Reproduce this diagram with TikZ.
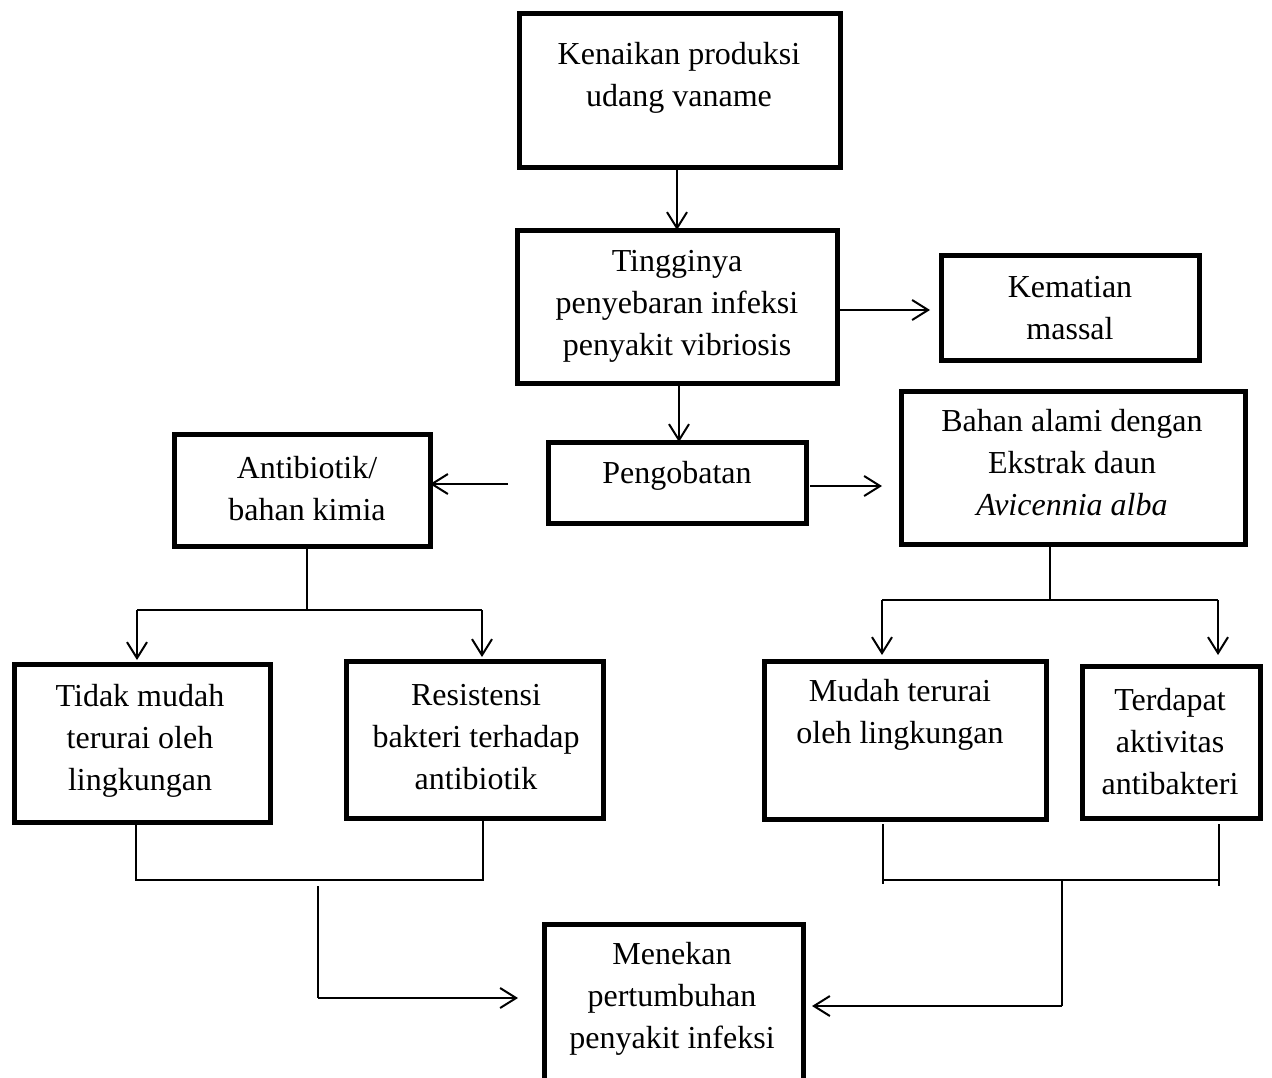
\documentclass[tikz,border=0pt]{standalone}
\usepackage{fontspec}
\setmainfont{Liberation Serif}
\usetikzlibrary{arrows.meta,calc}
\begin{document}
\begin{tikzpicture}[x=0.5pt,y=-0.5pt,
  box/.style={draw,line width=2.5pt,minimum width=#1,inner sep=0pt,outer sep=0pt},
  txt/.style={align=center,inner sep=0pt,font=\fontsize{16}{21}\selectfont},
  ln/.style={line width=1pt},
  arr/.style={line width=1pt,-{Straight Barb[length=8pt,width=10pt,line width=1pt]}}]
\useasboundingbox (0,0) rectangle (1272,1077);
\clip (0,0) rectangle (1272,1077);
% boxes
\node[box=160.5pt,minimum height=77pt] (b1) at (679.5,90) {};
\node[box=160pt,minimum height=76.5pt] (b2) at (677,306.5) {};
\node[box=129pt,minimum height=52.5pt] (b3) at (1070,307.5) {};
\node[box=129pt,minimum height=40.5pt] (b4) at (677,482.5) {};
\node[box=128pt,minimum height=56pt] (b5) at (302,490) {};
\node[box=172pt,minimum height=76.5pt] (b6) at (1073,467.5) {};
\node[box=128pt,minimum height=79pt] (b7) at (142,743) {};
\node[box=128.5pt,minimum height=78.5pt] (b8) at (474.5,739.5) {};
\node[box=141pt,minimum height=79pt] (b9) at (905,740) {};
\node[box=89pt,minimum height=76pt] (b10) at (1171,742) {};
\node[box=129.5pt,minimum height=83pt] (b11) at (673.5,1007) {};
% texts
\node[txt] (t1) at (679,78) {Kenaikan produksi\\udang vaname};
\node[txt] (t2) at (677,306) {Tingginya\\penyebaran infeksi\\penyakit vibriosis};
\node[txt] (t3) at (1070,308) {Kematian\\massal};
\node[txt] (t4) at (677,476) {Pengobatan};
\node[txt] (t5) at (307,489) {Antibiotik/\\bahan kimia};
\node[txt] (t6) at (1072,463) {Bahan alami dengan\\Ekstrak daun\\\textit{Avicennia alba}};
\node[txt] (t7) at (140,741) {Tidak mudah\\terurai oleh\\lingkungan};
\node[txt] (t8) at (476,737) {Resistensi\\bakteri terhadap\\antibiotik};
\node[txt] (t9) at (900,715) {Mudah terurai\\oleh lingkungan};
\node[txt] (t10) at (1170,742) {Terdapat\\aktivitas\\antibakteri};
\node[txt] (t11) at (672,999) {Menekan\\pertumbuhan\\penyakit infeksi};
% coordinates
\coordinate (pl) at (508,484);
\coordinate (pr) at (882,486);
\coordinate (a1) at (307,610);
\coordinate (aL) at (137,610);
\coordinate (aR) at (482,610);
\coordinate (c1) at (1050,600);
\coordinate (cL) at (882,600);
\coordinate (cR) at (1218,600);
\coordinate (d1) at (136,880);
\coordinate (d2) at (483,880);
\coordinate (d3) at (318,886);
\coordinate (d4) at (318,998);
\coordinate (d5) at (518,998);
\coordinate (e1) at (883,880);
\coordinate (e2) at (1219,880);
\coordinate (e3) at (1062,880);
\coordinate (e4) at (1062,1006);
\coordinate (e5) at (812,1006);
% connectors
\draw[arr] (b1.south -| b2.north) -- (b2.north);
\draw[arr] (b2.east |- 0,310) -- (930,310);
\draw[arr] (b2.south -| 679,0) -- (b4.north -| 679,0);
\draw[arr] (pl) -- (pl -| b5.east);
\draw[arr] (810,486) -- (pr);
\draw[ln] (b5.south -| a1) -- (a1);
\draw[ln] (aL) -- (aR);
\draw[arr] (aL) -- (137,660);
\draw[arr] (aR) -- (482,657);
\draw[ln] (b6.south -| c1) -- (c1);
\draw[ln] (cL) -- (cR);
\draw[arr] (cL) -- (882,655);
\draw[arr] (cR) -- (1218,655);
\draw[ln] (b7.south -| d1) -- (d1) -- (d2) -- (b8.south -| d2);
\draw[ln] (d3) -- (d4);
\draw[arr] (d4) -- (d5);
\draw[ln] (883,824) -- (883,884);
\draw[ln] (1219,824) -- (1219,886);
\draw[ln] (e1) -- (e2);
\draw[ln] (e3) -- (e4);
\draw[arr] (e4) -- (e5);
\end{tikzpicture}
\end{document}
